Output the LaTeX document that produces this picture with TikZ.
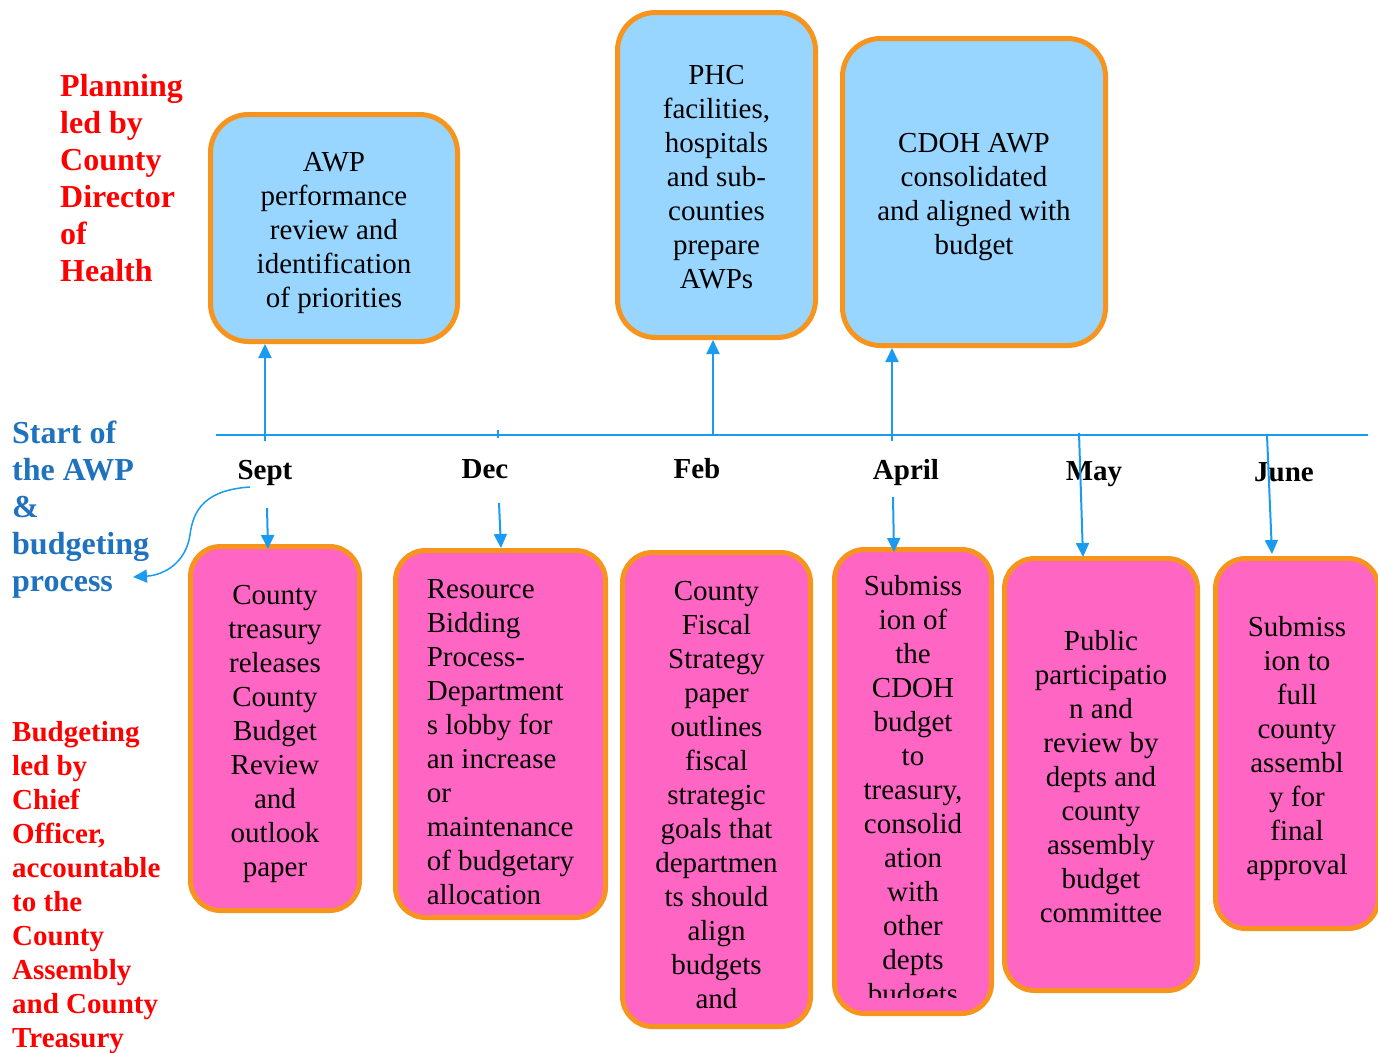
\documentclass[tikz,border=0pt]{standalone}
\usepackage{fontspec}
\setmainfont{Liberation Serif}
\usetikzlibrary{arrows.meta}
\definecolor{skyfill}{HTML}{99D6FF}
\definecolor{pinkfill}{HTML}{FF66C4}
\definecolor{orangeline}{HTML}{F7941D}
\definecolor{lineblue}{HTML}{1A9BF0}
\definecolor{textblue}{HTML}{1F72BE}
\tikzset{
  box/.style={draw=orangeline,line width=5pt,rounded corners=30pt,inner sep=0pt},
  planbox/.style={box,fill=skyfill,rounded corners=38pt},
  budgetbox/.style={box,fill=pinkfill},
  boxtext/.style={align=center,inner sep=0pt,font=\fontsize{29}{34}\selectfont},
  month/.style={font=\fontsize{29}{34}\selectfont\bfseries,inner sep=0pt,anchor=base},
  sidenote/.style={align=left,inner sep=0pt,anchor=north west,font=\fontsize{32}{37}\selectfont\bfseries},
  link/.style={->,lineblue,line width=2pt},
}
\begin{document}
\begin{tikzpicture}[x=1pt,y=-1pt,>={Triangle[length=14pt,width=13pt]}]
  \useasboundingbox (0,0) rectangle (1378,1052);
  % side notes
  \node[sidenote,red] (planning) at (60,74) {Planning\\led by\\County\\Director\\of\\Health};
  \node[sidenote,textblue] (start) at (12,421) {Start of\\the AWP\\\&\\budgeting\\process};
  \node[sidenote,red,font=\fontsize{29}{34}\selectfont\bfseries] (budgeting) at (12,721) {Budgeting\\led by\\Chief\\Officer,\\accountable\\to the\\County\\Assembly\\and County\\Treasury};

  % timeline
  \coordinate (tl-start) at (216,435);
  \coordinate (tl-end) at (1368,435);
  \draw[lineblue,line width=2pt] (tl-start) -- (tl-end);
  \coordinate (t-sept) at (265,441);
  \coordinate (t-dec) at (498,430);
  \coordinate (t-dec2) at (498,438);
  \coordinate (t-feb) at (713,435);
  \coordinate (t-april) at (892,441);
  \coordinate (t-may) at (1079,433);
  \coordinate (t-june) at (1267,435);
  \draw[lineblue,line width=1.5pt] (t-dec) -- (t-dec2);

  \node[month] (sept) at (265,479) {Sept};
  \node[month] (dec) at (485,478) {Dec};
  \node[month] (feb) at (697,478) {Feb};
  \node[month] (april) at (906,479) {April};
  \node[month] (may) at (1094,480) {May};
  \node[month] (june) at (1284,481) {June};

  % planning boxes
  \node[planbox,minimum width=247pt,minimum height=227pt] (review) at (334,228) {};
  \node[boxtext] (review-text) at ([yshift=-5pt]review.center)
    {AWP\\performance\\review and\\identification\\of priorities};
  \node[planbox,minimum width=198pt,minimum height=325pt] (prepare) at (716.5,175) {};
  \node[boxtext] (prepare-text) at ([yshift=-2pt]prepare.center)
    {PHC\\facilities,\\hospitals\\and sub-\\counties\\prepare\\AWPs};
  \node[planbox,minimum width=263pt,minimum height=307pt] (consolidate) at (974,192) {};
  \node[boxtext] (consolidate-text) at ([yshift=-5pt]consolidate.center)
    {CDOH AWP\\consolidated\\and aligned with\\budget};

  % budgeting boxes
  \node[budgetbox,minimum width=169pt,minimum height=364pt] (treasury) at (275,728.5) {};
  \node[boxtext] (treasury-text) at ([yshift=-5pt]treasury.center)
    {County\\treasury\\releases\\County\\Budget\\Review\\and\\outlook\\paper};
  \node[budgetbox,minimum width=210pt,minimum height=367pt] (bidding) at (500.5,734) {};
  \node[boxtext,align=left] (bidding-text) at ([yshift=-8pt]bidding.center)
    {Resource\\Bidding\\Process-\\Department\\s lobby for\\an increase\\or\\maintenance\\of budgetary\\allocation};
  \node[budgetbox,minimum width=188pt,minimum height=474pt] (fiscal) at (716.5,789.5) {};
  \node[boxtext] (fiscal-text) at ([yshift=-6pt]fiscal.center)
    {County\\Fiscal\\Strategy\\paper\\outlines\\fiscal\\strategic\\goals that\\departmen\\ts should\\align\\budgets\\and};
  \node[budgetbox,minimum width=157pt,minimum height=464pt] (submission) at (913,781.5) {};
  \begin{scope}
    \clip (832,547) rectangle (994,997);
    \node[boxtext] (submission-text) at (913,793)
      {Submiss\\ion of\\the\\CDOH\\budget\\to\\treasury,\\consolid\\ation\\with\\other\\depts\\budgets};
  \end{scope}
  \node[budgetbox,minimum width=193pt,minimum height=432pt] (public) at (1101,774.5) {};
  \node[boxtext] (public-text) at ([yshift=-2pt]public.center)
    {Public\\participatio\\n and\\review by\\depts and\\county\\assembly\\budget\\committee};
  \node[budgetbox,minimum width=163pt,minimum height=370pt] (approval) at (1297,743.5) {};
  \node[boxtext] (approval-text) at ([yshift=-5pt]approval.center)
    {Submiss\\ion to\\full\\county\\assembl\\y for\\final\\approval};

  % links up
  \draw[link] (t-sept) -- (t-sept |- review.south);
  \draw[link] (t-feb) -- (t-feb |- prepare.south);
  \draw[link] (t-april) -- (t-april |- consolidate.south);

  % links down
  \coordinate (d-sept) at (267,508);
  \coordinate (d-dec) at (499,503);
  \coordinate (d-april) at (893,497);
  \draw[link] (d-sept) -- (268,549);
  \draw[link] (d-dec) -- (501,548);
  \draw[link] (d-april) -- (894,552);
  \draw[link] (t-may) -- (1083,557);
  \draw[link] (t-june) -- (1272,554);
  \draw[link,line width=1.5pt] (250,487) .. controls (205,490) and (193,510) .. (190,535)
    .. controls (186,562) and (165,575) .. (133,577);
\end{tikzpicture}
\end{document}
